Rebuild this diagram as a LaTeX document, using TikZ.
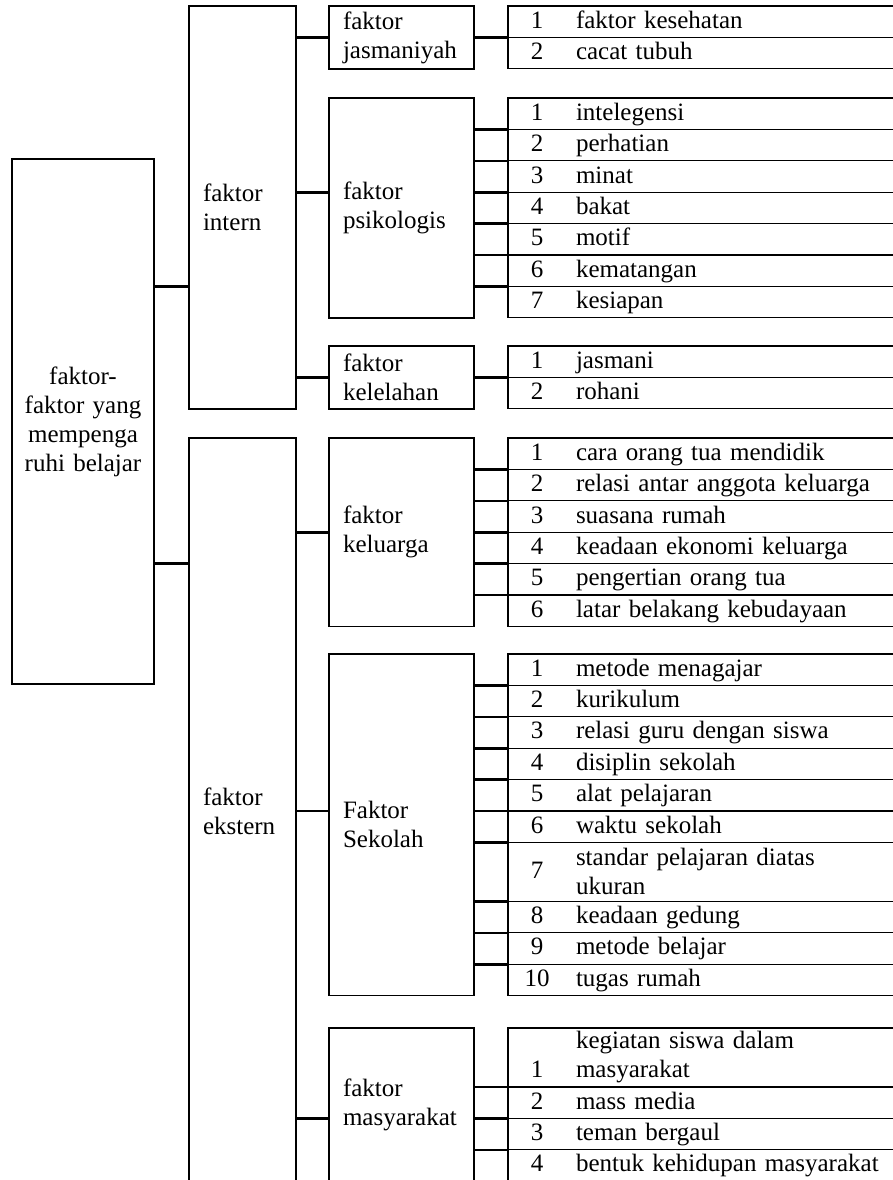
\documentclass[tikz,border=0pt]{standalone}
\usepackage{fontspec}
\setmainfont{Liberation Serif}
\usetikzlibrary{positioning}
\newcommand\rowtxt[2]{\noindent\makebox[58pt]{#1}\hspace{10pt}\rule[-5pt]{0pt}{23pt}#2}
\tikzset{
  box/.style={draw, line width=1.6pt, outer sep=0pt, inner ysep=0pt, anchor=north west, align=left},
  lvl/.style={box, inner xsep=14pt, text width=117pt},
  row/.style={draw, line width=1.2pt, outer sep=0pt, inner sep=0pt, anchor=north west,
    text width=460pt, align=left},
  link/.style={line width=2.6pt},
}
\begin{document}
\begin{tikzpicture}[x=1pt, y=1pt, every node/.style={font=\fontsize{25}{29}\selectfont}]
\useasboundingbox (0,0) rectangle (893,-1180);
\clip (0,0) rectangle (893,-1180);
% main boxes
\node[box, text width=142pt, inner xsep=0pt, align=center, minimum height=525pt] (root) at (12,-159)
  {faktor-\\faktor yang\\mempenga\\ruhi belajar};
\node[box, inner xsep=14pt, text width=79pt, minimum height=402.8pt] (intern) at (189,-6) {faktor\\intern};
\node[box, inner xsep=14pt, text width=79pt, minimum height=746pt] (extern) at (189,-438) {faktor\\ekstern};
% second level
\node[lvl, minimum height=62.8pt] (jas) at (329,-6) {faktor\\jasmaniyah};
\node[lvl, minimum height=219.8pt] (psi) at (329,-98) {faktor\\psikologis};
\node[lvl, minimum height=62.8pt] (kel) at (329,-346) {faktor\\kelelahan};
\node[lvl, minimum height=188.4pt] (klg) at (329,-438) {faktor\\keluarga};
\node[lvl, minimum height=341.6pt] (sek) at (329,-654) {Faktor\\Sekolah};
\node[lvl, minimum height=153.2pt] (mas) at (329,-1028) {faktor\\masyarakat};
% tables
\foreach \g in {jas,psi,kel,klg,sek,mas}
  \coordinate (\g0) at ([xshift=34pt]\g.north east);
\foreach \h/\n/\t [count=\i, remember=\i as \j (initially 0)] in
  {31.4/1/faktor kesehatan, 31.4/2/cacat tubuh}
  \node[row, minimum height=\h pt] (jas\i) at (jas\j.south west) {\rowtxt{\n}{\t}};
\foreach \h/\n/\t [count=\i, remember=\i as \j (initially 0)] in
  {31.4/1/intelegensi, 31.4/2/perhatian, 31.4/3/minat, 31.4/4/bakat,
   31.4/5/motif, 31.4/6/kematangan, 31.4/7/kesiapan}
  \node[row, minimum height=\h pt] (psi\i) at (psi\j.south west) {\rowtxt{\n}{\t}};
\foreach \h/\n/\t [count=\i, remember=\i as \j (initially 0)] in
  {31.4/1/jasmani, 31.4/2/rohani}
  \node[row, minimum height=\h pt] (kel\i) at (kel\j.south west) {\rowtxt{\n}{\t}};
\foreach \h/\n/\t [count=\i, remember=\i as \j (initially 0)] in
  {31.4/1/cara orang tua mendidik, 31.4/2/relasi antar anggota keluarga,
   31.4/3/suasana rumah, 31.4/4/keadaan ekonomi keluarga,
   31.4/5/pengertian orang tua, 31.4/6/latar belakang kebudayaan}
  \node[row, minimum height=\h pt] (klg\i) at (klg\j.south west) {\rowtxt{\n}{\t}};
\foreach \h/\n/\t [count=\i, remember=\i as \j (initially 0)] in
  {31.4/1/metode menagajar, 31.4/2/kurikulum, 31.4/3/relasi guru dengan siswa,
   31.4/4/disiplin sekolah, 31.4/5/alat pelajaran, 31.4/6/waktu sekolah,
   59/7/{\parbox[c]{300pt}{standar pelajaran diatas\\ukuran}},
   31.4/8/keadaan gedung, 31.4/9/metode belajar, 31.4/10/tugas rumah}
  \node[row, minimum height=\h pt] (sek\i) at (sek\j.south west) {\rowtxt{\n}{\t}};
\foreach \h/\n/\t [count=\i, remember=\i as \j (initially 0)] in
  {59/1/{\parbox[b]{300pt}{kegiatan siswa dalam\\masyarakat}},
   31.4/2/mass media, 31.4/3/teman bergaul, 31.4/4/bentuk kehidupan masyarakat}
  \node[row, minimum height=\h pt] (mas\i) at (mas\j.south west) {\rowtxt{\n}{\t}};
% connectors
\draw[link] (root.east |- psi7.north) -- (intern.west |- psi7.north);
\draw[link] (root.east |- klg5.north) -- (extern.west |- klg5.north);
\draw[link] (intern.east |- jas2.north) -- (jas.west |- jas2.north);
\draw[link] (intern.east |- psi4.north) -- (psi.west |- psi4.north);
\draw[link] (intern.east |- kel2.north) -- (kel.west |- kel2.north);
\draw[link] (extern.east |- klg4.north) -- (klg.west |- klg4.north);
\draw[link] (extern.east |- sek6.north) -- (sek.west |- sek6.north);
\draw[link] (extern.east |- mas3.north) -- (mas.west |- mas3.north);
\foreach \g/\k in {jas/2, psi/7, kel/2, klg/6, sek/10, mas/4}
  \foreach \i in {2,...,\k}
    \draw[link] (\g.east |- \g\i.north) -- (\g\i.north west);
\end{tikzpicture}
\end{document}
